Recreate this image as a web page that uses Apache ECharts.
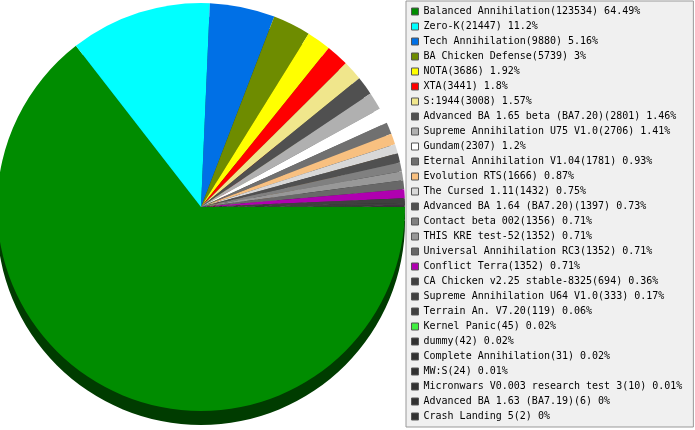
<!DOCTYPE html>
<html>
<head>
<meta charset="utf-8">
<script src="https://cdn.jsdelivr.net/npm/echarts@6/dist/echarts.min.js"></script>
<style>
html,body{margin:0;padding:0;background:#fff;}
#chart{width:695px;height:430px;}
</style>
</head>
<body>
<div id="chart"></div>
<script>
const categories = [
  "Balanced Annihilation","Zero-K","Tech Annihilation","BA Chicken Defense","NOTA","XTA","S:1944",
  "Advanced BA 1.65 beta (BA7.20)","Supreme Annihilation U75 V1.0","Gundam","Eternal Annihilation V1.04",
  "Evolution RTS","The Cursed 1.11","Advanced BA 1.64 (BA7.20)","Contact beta 002","THIS KRE test-52",
  "Universal Annihilation RC3","Conflict Terra","CA Chicken v2.25 stable-8325","Supreme Annihilation U64 V1.0",
  "Terrain An. V7.20","Kernel Panic","dummy","Complete Annihilation","MW:S",
  "Micronwars V0.003 research test 3","Advanced BA 1.63 (BA7.19)","Crash Landing 5"
];
const values = [123534,21447,9880,5739,3686,3441,3008,2801,2706,2307,1781,1666,1432,1397,1356,1352,1352,1352,694,333,119,45,42,31,24,10,6,2];
const percentLabels = ["64.49","11.2","5.16","3","1.92","1.8","1.57","1.46","1.41","1.2","0.93","0.87","0.75","0.73","0.71","0.71","0.71","0.71","0.36","0.17","0.06","0.02","0.02","0.02","0.01","0.01","0","0"];
const colors = ["#008c00","#00ffff","#0070e6","#6e8c00","#ffff00","#ff0000","#f0e68c","#505050","#b0b0b0","#ffffff","#707070","#f8c080","#d8d8d8","#505050","#808080","#989898","#686868","#b000b0","#404040","#404040","#404040","#40f040","#303030","#303030","#303030","#303030","#303030","#303030"];

function darken(hex, f){
  const n = parseInt(hex.slice(1),16);
  const r = Math.round(((n>>16)&255)*f), g = Math.round(((n>>8)&255)*f), b = Math.round((n&255)*f);
  return 'rgb('+r+','+g+','+b+')';
}

const mainData = categories.map((c,i)=>({name:c, value:values[i], itemStyle:{color:colors[i]}}));
const rimData = categories.map((c,i)=>({name:c, value:values[i], itemStyle:{color:darken(colors[i],0.43)}}));
const lookup = {};
categories.forEach((c,i)=>{ lookup[c] = i; });

const chart = echarts.init(document.getElementById('chart'), null, {renderer:'canvas'});
chart.setOption({
  animation:false,
  backgroundColor:'#ffffff',
  legend:{
    orient:'vertical',
    left:406, top:1,
    padding:[3,11,3,5],
    backgroundColor:'#f0f0f0',
    borderColor:'#999999',
    borderWidth:1,
    itemGap:0,
    itemWidth:7, itemHeight:7,
    icon:'rect',
    selectedMode:false,
    itemStyle:{borderColor:'#555555', borderWidth:1},
    textStyle:{fontFamily:'DejaVu Sans Mono', fontSize:10, color:'#000', lineHeight:15},
    data:categories,
    formatter:function(name){
      const i = lookup[name];
      return name + '(' + values[i] + ') ' + percentLabels[i] + '%';
    }
  },
  series:[
    {
      type:'pie', name:'top', z:3,
      center:[201,207], radius:[0,204],
      startAngle:0, clockwise:true,
      label:{show:false}, labelLine:{show:false},
      silent:true, emphasis:{disabled:true},
      itemStyle:{borderWidth:0},
      data:mainData
    },
    {
      type:'pie', name:'rim', z:2,
      center:[201,221], radius:[0,204],
      startAngle:0, clockwise:true,
      label:{show:false}, labelLine:{show:false},
      silent:true, emphasis:{disabled:true},
      itemStyle:{borderWidth:0},
      data:rimData
    }
  ]
});
</script>
</body>
</html>
